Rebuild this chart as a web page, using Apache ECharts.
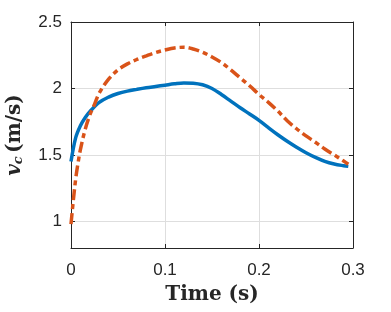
<!DOCTYPE html>
<html><head><meta charset="utf-8">
<script src="https://cdn.jsdelivr.net/npm/echarts@6/dist/echarts.min.js"></script>
<style>html,body{margin:0;padding:0;background:#fff}#c{width:391px;height:312px}</style>
</head><body><div id="c"></div>
<script>
var xTicks = [0, 0.1, 0.2, 0.3];
var yTicks = [1, 1.5, 2, 2.5];
var blueT = [0, 0.005, 0.01, 0.015, 0.02, 0.03, 0.04, 0.05, 0.06, 0.07, 0.08, 0.09, 0.1, 0.11, 0.12, 0.13, 0.14, 0.15, 0.16, 0.17, 0.18, 0.19, 0.2, 0.21, 0.22, 0.23, 0.24, 0.25, 0.26, 0.27, 0.28, 0.29, 0.295];
var blueV = [1.45, 1.63, 1.72, 1.78, 1.825, 1.895, 1.935, 1.962, 1.98, 1.993, 2.005, 2.015, 2.025, 2.035, 2.042, 2.04, 2.028, 2.0, 1.955, 1.905, 1.855, 1.808, 1.76, 1.705, 1.652, 1.603, 1.558, 1.517, 1.482, 1.452, 1.432, 1.419, 1.414];
var orangeT = [0, 0.0025, 0.005, 0.0075, 0.01, 0.015, 0.02, 0.025, 0.03, 0.04, 0.05, 0.06, 0.07, 0.08, 0.09, 0.1, 0.11, 0.12, 0.13, 0.14, 0.15, 0.16, 0.17, 0.18, 0.19, 0.2, 0.21, 0.22, 0.23, 0.24, 0.25, 0.26, 0.27, 0.28, 0.29, 0.295];
var orangeV = [0.98, 1.16, 1.32, 1.44, 1.54, 1.69, 1.8, 1.88, 1.965, 2.07, 2.14, 2.185, 2.218, 2.245, 2.27, 2.289, 2.305, 2.31, 2.297, 2.272, 2.237, 2.195, 2.14, 2.08, 2.02, 1.955, 1.895, 1.83, 1.757, 1.697, 1.643, 1.595, 1.545, 1.5, 1.455, 1.43];

function pairs(t, v) { return t.map(function (x, i) { return [x, v[i]]; }); }
var axCol = '#262626';
var sans = 'Liberation Sans, Arial, sans-serif';
var serif = 'DejaVu Serif, serif';
var chart = echarts.init(document.getElementById('c'), null, {renderer: 'canvas'});
var xBase = {type: 'value', min: 0, max: 0.3, interval: 0.1,
  axisLine: {show: true, onZero: false, lineStyle: {color: axCol, width: 1}},
  axisTick: {show: true, inside: true, length: 4, lineStyle: {color: axCol}}};
var yBase = {type: 'value', min: 0.8, max: 2.5,
  axisLine: {show: true, onZero: false, lineStyle: {color: axCol, width: 1}},
  axisTick: {show: true, inside: true, length: 4, lineStyle: {color: axCol}},
  customValues: yTicks};
chart.setOption({
  animation: false,
  grid: {left: 71, right: 38, top: 22, bottom: 64, containLabel: false, outerBoundsMode: 'none'},
  xAxis: [
    Object.assign({}, xBase, {position: 'bottom',
      axisLabel: {show: true, color: axCol, fontSize: 17, fontFamily: sans, margin: 14,
        customValues: xTicks, formatter: function (v) { return String(v); }},
      axisTick: {show: true, inside: true, length: 4, lineStyle: {color: axCol}, customValues: xTicks},
      splitLine: {show: true, lineStyle: {color: '#dedede', width: 1}},
      name: 'Time (s)', nameLocation: 'middle', nameGap: 37,
      nameTextStyle: {fontFamily: serif, fontWeight: 'bold', fontSize: 20, color: axCol}}),
    Object.assign({}, xBase, {position: 'top', axisLabel: {show: false}, splitLine: {show: false},
      axisTick: {show: true, inside: true, length: 4, lineStyle: {color: axCol}, customValues: xTicks}})
  ],
  yAxis: [
    Object.assign({}, yBase, {position: 'left',
      axisLabel: {show: true, color: axCol, fontSize: 17, fontFamily: sans, margin: 9,
        customValues: yTicks, formatter: function (v) { return String(v); }},
      axisTick: {show: true, inside: true, length: 4, lineStyle: {color: axCol}, customValues: yTicks},
      splitLine: {show: true, lineStyle: {color: '#dedede', width: 1}},
      name: '{v|v}{c|c} {t|(m/s)}', nameLocation: 'middle', nameGap: 46,
      nameTextStyle: {color: axCol, rich: {
        v: {fontFamily: serif, fontStyle: 'italic', fontWeight: 'bold', fontSize: 20, color: axCol},
        c: {fontFamily: serif, fontStyle: 'italic', fontWeight: 'bold', fontSize: 13, color: axCol, verticalAlign: 'bottom', padding: [6, 0, 0, 0]},
        t: {fontFamily: serif, fontWeight: 'bold', fontSize: 20, color: axCol}}}}),
    Object.assign({}, yBase, {position: 'right', axisLabel: {show: false}, splitLine: {show: false},
      axisTick: {show: true, inside: true, length: 4, lineStyle: {color: axCol}, customValues: yTicks}})
  ],
  series: [
    {type: 'line', xAxisIndex: 0, yAxisIndex: 0, data: pairs(blueT, blueV), showSymbol: false, smooth: 0.35,
      lineStyle: {color: '#0072BD', width: 3.5}},
    {type: 'line', xAxisIndex: 0, yAxisIndex: 0, data: pairs(orangeT, orangeV), showSymbol: false, smooth: 0.35,
      lineStyle: {color: '#D95319', width: 3.5, type: [11, 4, 5, 4], cap: 'butt'}}
  ]
});
</script></body></html>
